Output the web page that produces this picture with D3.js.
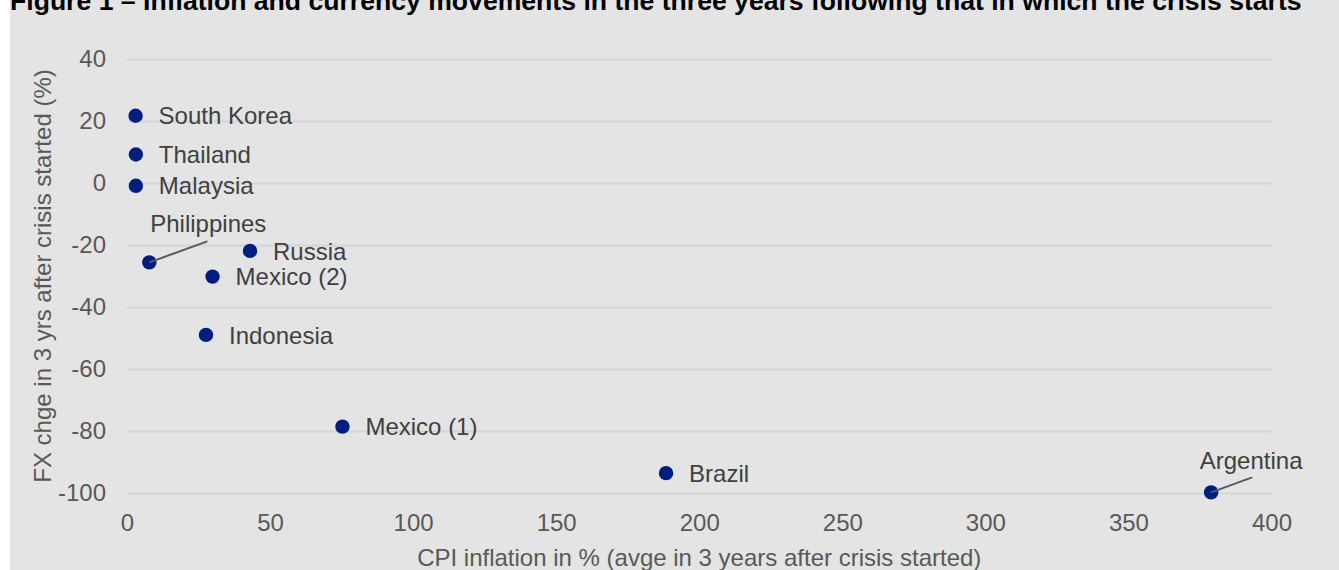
<!DOCTYPE html>
<html>
<head>
<meta charset="utf-8">
<script src="https://cdn.jsdelivr.net/npm/d3@7"></script>
<style>
  html, body { margin: 0; padding: 0; background: #ffffff; }
  svg { display: block; }
  text { font-family: "Liberation Sans", Arial, sans-serif; }
</style>
</head>
<body>
<svg id="chart" width="1339" height="570"></svg>
<script>
// Crisis episodes: average CPI inflation and FX change in the three years after the crisis began
const countries    = ["South Korea", "Thailand", "Malaysia", "Philippines", "Russia", "Mexico (2)", "Indonesia", "Mexico (1)", "Brazil", "Argentina"];
const cpiInflation = [3.0, 3.1, 3.1, 7.8, 43.0, 29.9, 27.6, 75.3, 188.4, 378.9];
const fxChange     = [21.7, 9.2, -0.9, -25.6, -21.9, -30.2, -49.0, -78.6, -93.6, -99.8];

const xTicks = [0, 50, 100, 150, 200, 250, 300, 350, 400];
const yTicks = [-100, -80, -60, -40, -20, 0, 20, 40];

const titleText = "Figure 1 \u2013 Inflation and currency movements in the three years following that in which the crisis starts";
const xTitle = "CPI inflation in % (avge in 3 years after crisis started)";
const yTitle = "FX chge in 3 yrs after crisis started (%)";

// Labels drawn above their point with a leader line (offsets in px)
const callouts = {
  "Philippines": { lineDx: 58, lineDy: -21, textDx: 59, textDy: -30 },
  "Argentina":   { lineDx: 41, lineDy: -15, textDx: 40, textDy: -23 }
};

const data = countries.map((c, i) => ({ name: c, x: cpiInflation[i], y: fxChange[i] }));

const svg = d3.select("#chart");
const W = 1339, H = 570;
const plot = { left: 127, right: 1271.5, top: 59, bottom: 493 };
const FS = 24;
const fmt = d => String(d);   // plain hyphen for negatives

// panel background
svg.append("rect")
  .attr("x", 10).attr("y", 0)
  .attr("width", W - 10).attr("height", H)
  .attr("fill", "#e4e4e4");

// title
const title = svg.append("text")
  .attr("x", 10).attr("y", 10)
  .attr("font-weight", "bold")
  .attr("font-size", 21)
  .attr("fill", "#000")
  .text(titleText);
const tl = title.node().getComputedTextLength();
title.attr("font-size", 21 * 1292 / tl);

const x = d3.scaleLinear().domain([0, 400]).range([plot.left, plot.right]);
const y = d3.scaleLinear().domain([-100, 40]).range([plot.bottom, plot.top]);

// horizontal gridlines
svg.append("g")
  .attr("transform", `translate(${plot.left},0)`)
  .call(d3.axisLeft(y).tickValues(yTicks).tickSize(-(plot.right - plot.left)).tickFormat(""))
  .call(g => g.select(".domain").remove())
  .call(g => g.selectAll("line").attr("stroke", "#d4d4d4").attr("stroke-width", 1.8));

// y axis labels
svg.append("g")
  .attr("transform", `translate(${plot.left},0)`)
  .call(d3.axisLeft(y).tickValues(yTicks).tickSize(0).tickPadding(21).tickFormat(fmt))
  .call(g => g.select(".domain").remove())
  .call(g => g.selectAll("text")
    .attr("font-size", FS)
    .attr("fill", "#595959")
    .style("font-family", "'Liberation Sans', Arial, sans-serif"));

// x axis labels
svg.append("g")
  .attr("transform", `translate(0,${plot.bottom})`)
  .call(d3.axisBottom(x).tickValues(xTicks).tickSize(0).tickPadding(21).tickFormat(fmt))
  .call(g => g.select(".domain").remove())
  .call(g => g.selectAll("text")
    .attr("font-size", FS)
    .attr("fill", "#595959")
    .style("font-family", "'Liberation Sans', Arial, sans-serif"));

// axis titles
svg.append("text")
  .attr("x", (plot.left + plot.right) / 2).attr("y", 566)
  .attr("text-anchor", "middle")
  .attr("font-size", FS)
  .attr("fill", "#595959")
  .text(xTitle);

svg.append("text")
  .attr("transform", `translate(51,${(plot.top + plot.bottom) / 2}) rotate(-90)`)
  .attr("text-anchor", "middle")
  .attr("font-size", FS)
  .attr("fill", "#595959")
  .text(yTitle);

// points
svg.append("g").selectAll("circle")
  .data(data)
  .join("circle")
  .attr("cx", d => x(d.x))
  .attr("cy", d => y(d.y))
  .attr("r", 7.2)
  .attr("fill", "#001e80");

// leader lines for callout labels
svg.append("g").selectAll("line")
  .data(data.filter(d => callouts[d.name]))
  .join("line")
  .attr("x1", d => x(d.x))
  .attr("y1", d => y(d.y))
  .attr("x2", d => x(d.x) + callouts[d.name].lineDx)
  .attr("y2", d => y(d.y) + callouts[d.name].lineDy)
  .attr("stroke", "#595959")
  .attr("stroke-width", 2);

// point labels
svg.append("g").selectAll("text")
  .data(data)
  .join("text")
  .attr("font-size", FS)
  .attr("fill", "#404040")
  .each(function (d) {
    const t = d3.select(this);
    const c = callouts[d.name];
    if (c) {
      t.attr("x", x(d.x) + c.textDx)
       .attr("y", y(d.y) + c.textDy)
       .attr("text-anchor", "middle");
    } else {
      t.attr("x", x(d.x) + 23)
       .attr("y", y(d.y))
       .attr("dy", "0.36em");
    }
  })
  .text(d => d.name);
</script>
</body>
</html>
